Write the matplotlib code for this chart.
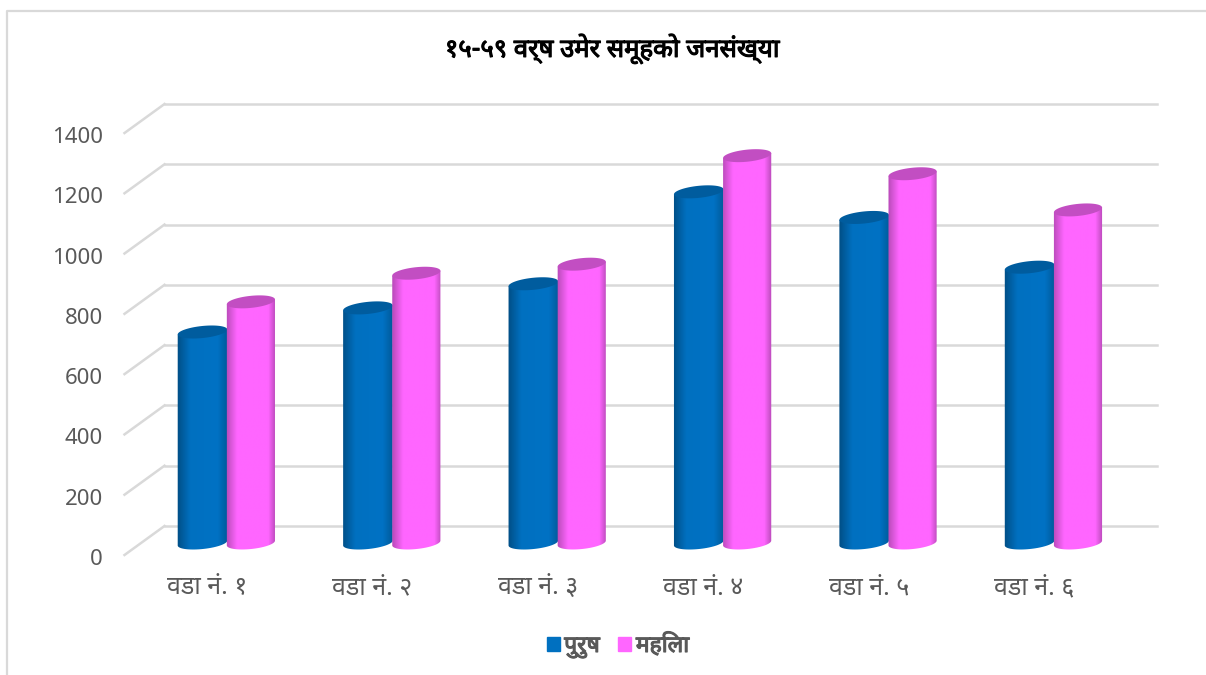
import matplotlib
matplotlib.use('Agg')
import matplotlib.pyplot as plt
import matplotlib.patheffects as pe
import numpy as np
from matplotlib.colors import LinearSegmentedColormap
from matplotlib.lines import Line2D
from matplotlib.patches import Polygon, Rectangle
from matplotlib.transforms import ScaledTranslation

plt.rcParams['font.family'] = ['Noto Sans Devanagari', 'Noto Sans', 'DejaVu Sans']

W, H = 1206, 675
DPI = 100

title = '१५-५९ वर्ष उमेर समूहको जनसंख्या'
wards = ['वडा नं. १', 'वडा नं. २', 'वडा नं. ३', 'वडा नं. ४', 'वडा नं. ५', 'वडा नं. ६']
male = [700, 780, 860, 1165, 1080, 915]
female = [800, 895, 925, 1285, 1225, 1105]
yticks = [0, 200, 400, 600, 800, 1000, 1200, 1400]
series_names = ['पुरुष', 'महिला']

BLUE = '#0070C0'
PINK = '#FF66FF'
GREY = '#595959'
GRID = '#D9D9D9'

blue_map = LinearSegmentedColormap.from_list('blue', [(0, '#004E85'), (0.26, '#0070C0'), (0.8, '#0072C4'), (1, '#005A9A')])
pink_map = LinearSegmentedColormap.from_list('pink', [(0, '#B84AB8'), (0.22, '#FF66FF'), (0.85, '#FF66FF'), (1, '#B84AB8')])
CAP_BLUE = '#005C9E'
CAP_PINK = '#C24EC2'

# data units per pixel
SX = 1 / 165.4
SY = 1400 / 422
TILT = np.radians(6)


def px_offset(fig, dx, dy):
    return ScaledTranslation(dx / DPI, -dy / DPI, fig.dpi_scale_trans)


def ellipse(xc, yc, half, t):
    # tilted ellipse, rises to the right like the 3D view in the original
    a = half / SX
    b = 6
    px = a * np.cos(t) * np.cos(TILT) + b * np.sin(t) * np.sin(TILT)
    py = a * np.cos(t) * np.sin(TILT) - b * np.sin(t) * np.cos(TILT)
    return xc + px * SX, yc + py * SY


def cylinder(ax, xc, value, half, cmap, cap, z):
    # side outline: lower arc of the base, then up to the two ends of the top
    xb, yb = ellipse(xc, 0, half, np.linspace(0, np.pi, 40))
    xe, ye = ellipse(xc, value, half, np.array([np.pi, 0.0]))
    body = np.column_stack([np.concatenate([xb, xe]), np.concatenate([yb, ye])])
    clip = Polygon(body, closed=True, transform=ax.transData, fc='none', ec='none')
    ax.add_patch(clip)
    grad = np.linspace(0, 1, 128).reshape(1, -1)
    im = ax.imshow(grad, cmap=cmap, aspect='auto', extent=(xc - half * 1.02, xc + half * 1.02, -40, value + 60),
                   zorder=z, interpolation='bilinear')
    im.set_clip_path(clip)
    im.set_clip_box(ax.figure.bbox)
    xt, yt = ellipse(xc, value, half, np.linspace(0, 2 * np.pi, 80))
    ax.fill(xt, yt, color=cap, lw=0, zorder=z + 0.5)


fig = plt.figure(figsize=(W / DPI, H / DPI), dpi=DPI)
ax = fig.add_axes([144.5 / W, 1 - 543 / H, 992.5 / W, 422 / H])
ax.patch.set_alpha(0)
for s in ax.spines.values():
    s.set_visible(False)

half = 24.2 * SX
for i in range(len(wards)):
    cylinder(ax, i - half - 0.5 * SX, male[i], half * 1.03, blue_map, CAP_BLUE, 3)
    cylinder(ax, i + half - 0.5 * SX, female[i], half, pink_map, CAP_PINK, 4)

ax.set_xlim(-0.5, 5.5)
ax.set_ylim(0, 1400)
ax.set_xticks(range(len(wards)))
ax.set_xticklabels(wards, fontsize=18, color=GREY)
ax.set_yticks(yticks)
ax.set_yticklabels([str(v) for v in yticks], fontsize=16, color=GREY, family=['Noto Sans'])
ax.tick_params(length=0)
ax.tick_params(axis='x', pad=24)
ax.tick_params(axis='y', pad=30)
for lab in ax.get_xticklabels():
    lab.set_transform(lab.get_transform() + px_offset(fig, -20, 0))
for lab in ax.get_yticklabels():
    lab.set_transform(lab.get_transform() + px_offset(fig, 0, 14))

# back wall grid and the slanted side wall, shifted off the bar plane
back = ax.transData + px_offset(fig, 20, -17)
front = ax.transData + px_offset(fig, -20, 12)
for v in yticks:
    ax.plot([-0.5, 5.5], [v, v], color=GRID, lw=1.8, transform=back, clip_on=False, zorder=1)
    x0, y0 = front.transform((-0.5, v))
    x1, y1 = back.transform((-0.5, v))
    fig.add_artist(Line2D([x0 / W, x1 / W], [y0 / H, y1 / H], color=GRID, lw=1.8, zorder=1))
ax.set_xlim(-0.5, 5.5)
ax.set_ylim(0, 1400)

bold = [pe.withStroke(linewidth=0.8, foreground='black')]
fig.text(612 / W, 1 - 49 / H, title, ha='center', va='center', fontsize=18.5, color='black', path_effects=bold)

handles = [Rectangle((0, 0), 1, 1, color=BLUE), Rectangle((0, 0), 1, 1, color=PINK)]
leg = fig.legend(handles, series_names, loc='center', bbox_to_anchor=(618 / W, 1 - 646 / H), ncol=2, frameon=False,
                 handlelength=0.57, handleheight=0.57, handletextpad=0.2, columnspacing=0.8,
                 prop={'size': 16.5}, labelcolor=GREY)
for t in leg.get_texts():
    t.set_path_effects([pe.withStroke(linewidth=0.8, foreground=GREY)])

# chart frame: only top and left edges are inside the crop
fig.add_artist(Line2D([7 / W, 7 / W, 1], [0, 1 - 11 / H, 1 - 11 / H], color=GRID, lw=1.6))

fig.savefig('out.png', dpi=DPI)
